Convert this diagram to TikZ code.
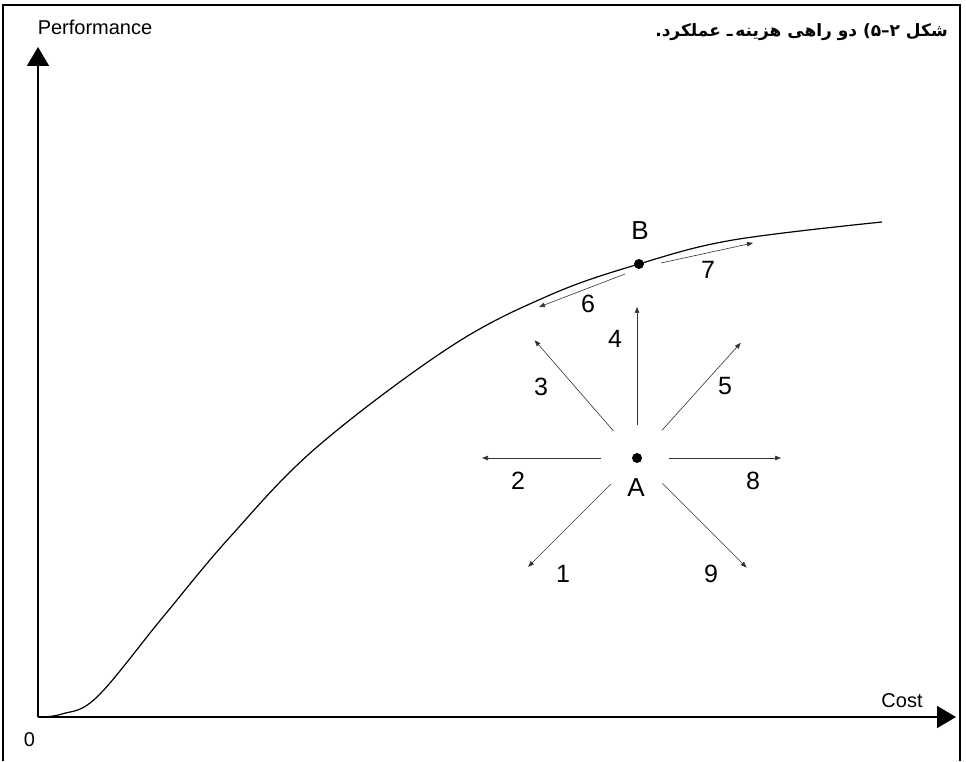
\documentclass[tikz,border=0pt]{standalone}
\usepackage{fontspec}
\setmainfont{Liberation Sans}
\newfontfamily\persianfont[Script=Arabic]{DejaVu Sans}
\TeXXeTstate=1
\usetikzlibrary{
  arrows.meta,
  calc,
}

\begin{document}
\begin{tikzpicture}[
    x=1pt, y=1pt,
    axis/.style={line width=1.6pt, -{Triangle[length=19pt, width=22pt]}},
    curve/.style={line width=1.2pt},
    move/.style={line width=0.6pt, draw=black!80,
                 -{Triangle[length=6pt, width=4.5pt]}},
    point/.style={circle, fill=black, inner sep=0pt, minimum size=10pt},
    num/.style={font=\fontsize{25}{25}\selectfont, inner sep=0pt},
    axlabel/.style={font=\fontsize{20}{20}\selectfont, inner sep=0pt},
    title/.style={font=\persianfont\bfseries\fontsize{17}{17}\selectfont,
                  inner sep=0pt, anchor=base east},
  ]
  \useasboundingbox (0,0) rectangle (966,761);
  \draw[line width=2.5pt] (3,0) -- (3,756) -- (960,756) -- (960,0);

  % axes
  \coordinate (o) at (38,44);
  \coordinate (ytip) at (38,714);
  \coordinate (xtip) at (956,44);
  \draw[axis] (o) -- (ytip);
  \draw[axis] (o) -- (xtip);
  \node[axlabel] (perf) at (95,734) {Performance};
  \node[axlabel] (cost) at (902,60) {Cost};
  \node[axlabel] (zero) at (29.5,21) {0};

  % caption (right to left)
  \node[title] (caption) at (948,724)
    {\beginR شکل \hbox{۲}\hbox{–}\hbox{۵}\hbox{)} دو راهی هزینه\,ـ عملکرد\hbox{.}\endR};

  % cost-performance curve
  \draw[curve] plot[smooth, tension=0.6] coordinates {
    (38,44) (62,47) (97,64) (163,144) (230,224) (317,314) (450,414)
    (550,466) (639,497) (733,521) (882,539)};

  \node[point] (b) at (639,497) {};
  \node[num, font=\fontsize{26}{26}\selectfont] (blabel) at (640,530) {B};
  \node[point] (a) at (637,303) {};
  \node[num, font=\fontsize{26}{26}\selectfont] (alabel) at (636,273) {A};

  % moves from A
  \foreach \n/\ang/\r/\R in {1/-135/37/154, 2/180/36/155, 3/131/36/156,
                             4/90/33/151, 5/48/37/155, 8/0/32/144, 9/-45/36/155}{
    \coordinate (s\n) at ($(a)+(\ang:\r)$);
    \coordinate (e\n) at ($(a)+(\ang:\R)$);
    \draw[move] (s\n) -- (e\n);
  }
  % moves along the curve from B
  \coordinate (s6) at (625,487);
  \coordinate (e6) at (539,454);
  \coordinate (s7) at (661,498);
  \coordinate (e7) at (753,518);
  \draw[move] (s6) -- (e6);
  \draw[move] (s7) -- (e7);

  \node[num] (n1) at (563,187) {1};
  \node[num] (n2) at (518,280) {2};
  \node[num] (n3) at (541,374) {3};
  \node[num] (n4) at (615,422) {4};
  \node[num] (n5) at (725,375) {5};
  \node[num] (n6) at (588,457) {6};
  \node[num] (n7) at (708,491) {7};
  \node[num] (n8) at (753,280) {8};
  \node[num] (n9) at (711,187) {9};
\end{tikzpicture}
\end{document}
